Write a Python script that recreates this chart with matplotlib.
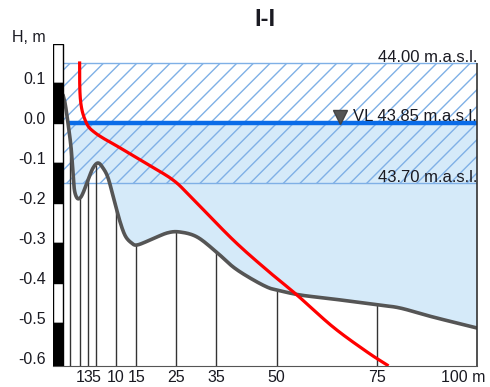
import numpy as np
import matplotlib
matplotlib.use("Agg")
import matplotlib.pyplot as plt
import matplotlib.transforms as mtransforms

plt.rcParams['font.family'] = ['Liberation Sans', 'DejaVu Sans']

# stations along the section, m
stations = [-1.5, 1, 3, 5, 10, 15, 25, 35, 50, 75, 100]
tick_pos = [1, 3, 5, 10, 15, 25, 35, 50, 75, 100]
tick_lbl = ["1", "3", "5", "10", "15", "25", "35", "50", "75", "100 m"]
y_ticks = [0.1, 0.0, -0.1, -0.2, -0.3, -0.4, -0.5, -0.6]
y_lbl = ["0.1", "0.0", "-0.1", "-0.2", "-0.3", "-0.4", "-0.5", "-0.6"]

# bed profile
bed_x = [-3.24, -2.74, -2.0, -1.25, -0.75, -0.4, 0.25, 1.0, 1.75, 3.0, 4.24,
         5.49, 6.73, 8.0, 9.5, 11.0, 12.3, 13.8, 15.2, 18.5, 22.7, 25.9,
         30.2, 35.0, 39.2, 43.4, 47.6, 50.1, 55.9, 64.1, 75.3, 80.8, 89.0, 100]
bed_y = [0.0575, 0.0375, -0.0125, -0.0725, -0.1375, -0.18, -0.2, -0.2, -0.1875,
         -0.155, -0.125, -0.1125, -0.125, -0.15, -0.205, -0.26, -0.295, -0.312,
         -0.3175, -0.305, -0.2875, -0.285, -0.2975, -0.335, -0.3725, -0.4,
         -0.4225, -0.43, -0.4425, -0.4525, -0.4675, -0.475, -0.4975, -0.525]

# red line
red_x = [0.9, 0.9, 1.0, 1.3, 1.9, 3.0, 4.5, 6.7, 10.2, 13.5, 17.7, 24.2, 28.9,
         39.2, 47.6, 55.1, 64.1, 72.6, 77.6]
red_y = [0.1375, 0.10, 0.06, 0.03, 0.005, -0.02, -0.035, -0.05, -0.07, -0.09,
         -0.115, -0.155, -0.2, -0.305, -0.38, -0.4425, -0.5225, -0.585, -0.6175]

lvl_top = 0.1375   # 44.00 m.a.s.l.
lvl_vl = -0.0125   # 43.85 m.a.s.l.
lvl_bot = -0.1625  # 43.70 m.a.s.l.

# scale bar segments
bar_bottoms = [0.0875, -0.0125, -0.1125, -0.2125, -0.3125, -0.4125, -0.5125, -0.62]
bar_tops = [0.185, 0.0875, -0.0125, -0.1125, -0.2125, -0.3125, -0.4125, -0.5125]
bar_cols = ["white", "black", "white", "black", "white", "black", "white", "black"]

x_min, x_max = -5.74, 100
y_min, y_max = -0.62, 0.185
bar_right = -3.24


def smooth(xs, ys, n=16):
    pts = np.column_stack([xs, ys])
    p = np.vstack([pts[0], pts, pts[-1]])
    t = np.linspace(0, 1, n, endpoint=False)[:, None]
    out = []
    for i in range(1, len(p) - 2):
        p0, p1, p2, p3 = p[i - 1], p[i], p[i + 1], p[i + 2]
        out.append(0.5 * (2 * p1 + (-p0 + p2) * t
                          + (2 * p0 - 5 * p1 + 4 * p2 - p3) * t ** 2
                          + (-p0 + 3 * p1 - 3 * p2 + p3) * t ** 3))
    out.append(pts[-1:])
    s = np.vstack(out)
    return s[:, 0], s[:, 1]


fig = plt.figure(figsize=(4.9, 3.87), dpi=100)
ax = fig.add_axes([53 / 490, 1 - 366 / 387, 424 / 490, 322 / 387])
ax.set_xlim(x_min, x_max)
ax.set_ylim(y_min, y_max)

hatch_c = "#7fb0e6"
text_c = "#1a1a22"

# water body
bx, by = smooth(bed_x, bed_y)
clip_y = np.minimum(by, lvl_vl)
ax.fill(np.r_[bx, bx[-1], bx[0]], np.r_[clip_y, lvl_vl, lvl_vl],
        color="#d5eaf9", lw=0, zorder=1)

# hatched band
ax.fill_between([bar_right, x_max], lvl_bot, lvl_top, facecolor="none",
                edgecolor=hatch_c, hatch="//", lw=0, zorder=2)
ax.hlines([lvl_top, lvl_bot], bar_right, x_max, color=hatch_c, lw=1, zorder=2)

# station lines
st_top = np.interp(stations, bed_x, bed_y)
ax.vlines(stations[:-1], y_min, st_top[:-1], color="#333333", lw=1, zorder=3)
ax.vlines(x_max, y_min, lvl_top, color="#333333", lw=1.2, zorder=6, clip_on=False)

# water level
x_vl = np.interp(lvl_vl, bed_y[:4][::-1], bed_x[:4][::-1])
ax.hlines(lvl_vl, x_vl, x_max, color="#0a6ce8", lw=3.2, zorder=4)

# bed and red line
ax.plot(bx, by, color="#555555", lw=2.6, zorder=5, solid_capstyle="round")
rx, ry = smooth(red_x, red_y)
ax.plot(rx, ry, color="#ff0000", lw=2.3, zorder=6)

# scale bar
ax.bar([(x_min + bar_right) / 2] * len(bar_cols),
       np.array(bar_tops) - np.array(bar_bottoms), bottom=bar_bottoms,
       width=bar_right - x_min, color=bar_cols, edgecolor="black", lw=1, zorder=7)

# level labels
ax.text(x_max, lvl_top + 0.003, "44.00 m.a.s.l.", ha="right", va="baseline",
        fontsize=12, color=text_c, zorder=8)
ax.text(x_max, lvl_vl + 0.004, "VL 43.85 m.a.s.l.", ha="right", va="baseline",
        fontsize=12, color=text_c, zorder=8)
ax.text(x_max, lvl_bot + 0.003, "43.70 m.a.s.l.", ha="right", va="baseline",
        fontsize=12, color=text_c, zorder=8)
ax.plot([65.8], [lvl_vl + 0.016], marker="v", markersize=9.5,
        markerfacecolor="#555555", markeredgecolor="#444444", zorder=8)

# axes styling
for s in ["top", "left", "right"]:
    ax.spines[s].set_visible(False)
ax.spines["bottom"].set_color("#555555")
ax.set_yticks(y_ticks, y_lbl)
ax.set_xticks(tick_pos, tick_lbl)
ax.tick_params(axis="y", length=0, pad=5, labelsize=11.5, labelcolor=text_c)
ax.tick_params(axis="x", length=0, pad=3, labelsize=11.5, labelcolor=text_c)
last = ax.get_xticklabels()[-1]
last.set_horizontalalignment("right")
last.set_transform(last.get_transform() + mtransforms.ScaledTranslation(8 / 100, 0, fig.dpi_scale_trans))

fig.text(29 / 490, 1 - 37 / 387, "H, m", ha="center", va="center",
         fontsize=11.5, color=text_c)
fig.text(265 / 490, 1 - 20 / 387, "I-I", ha="center", va="center",
         fontsize=17, fontweight="bold", color=text_c)

fig.savefig("out.png", dpi=100)
